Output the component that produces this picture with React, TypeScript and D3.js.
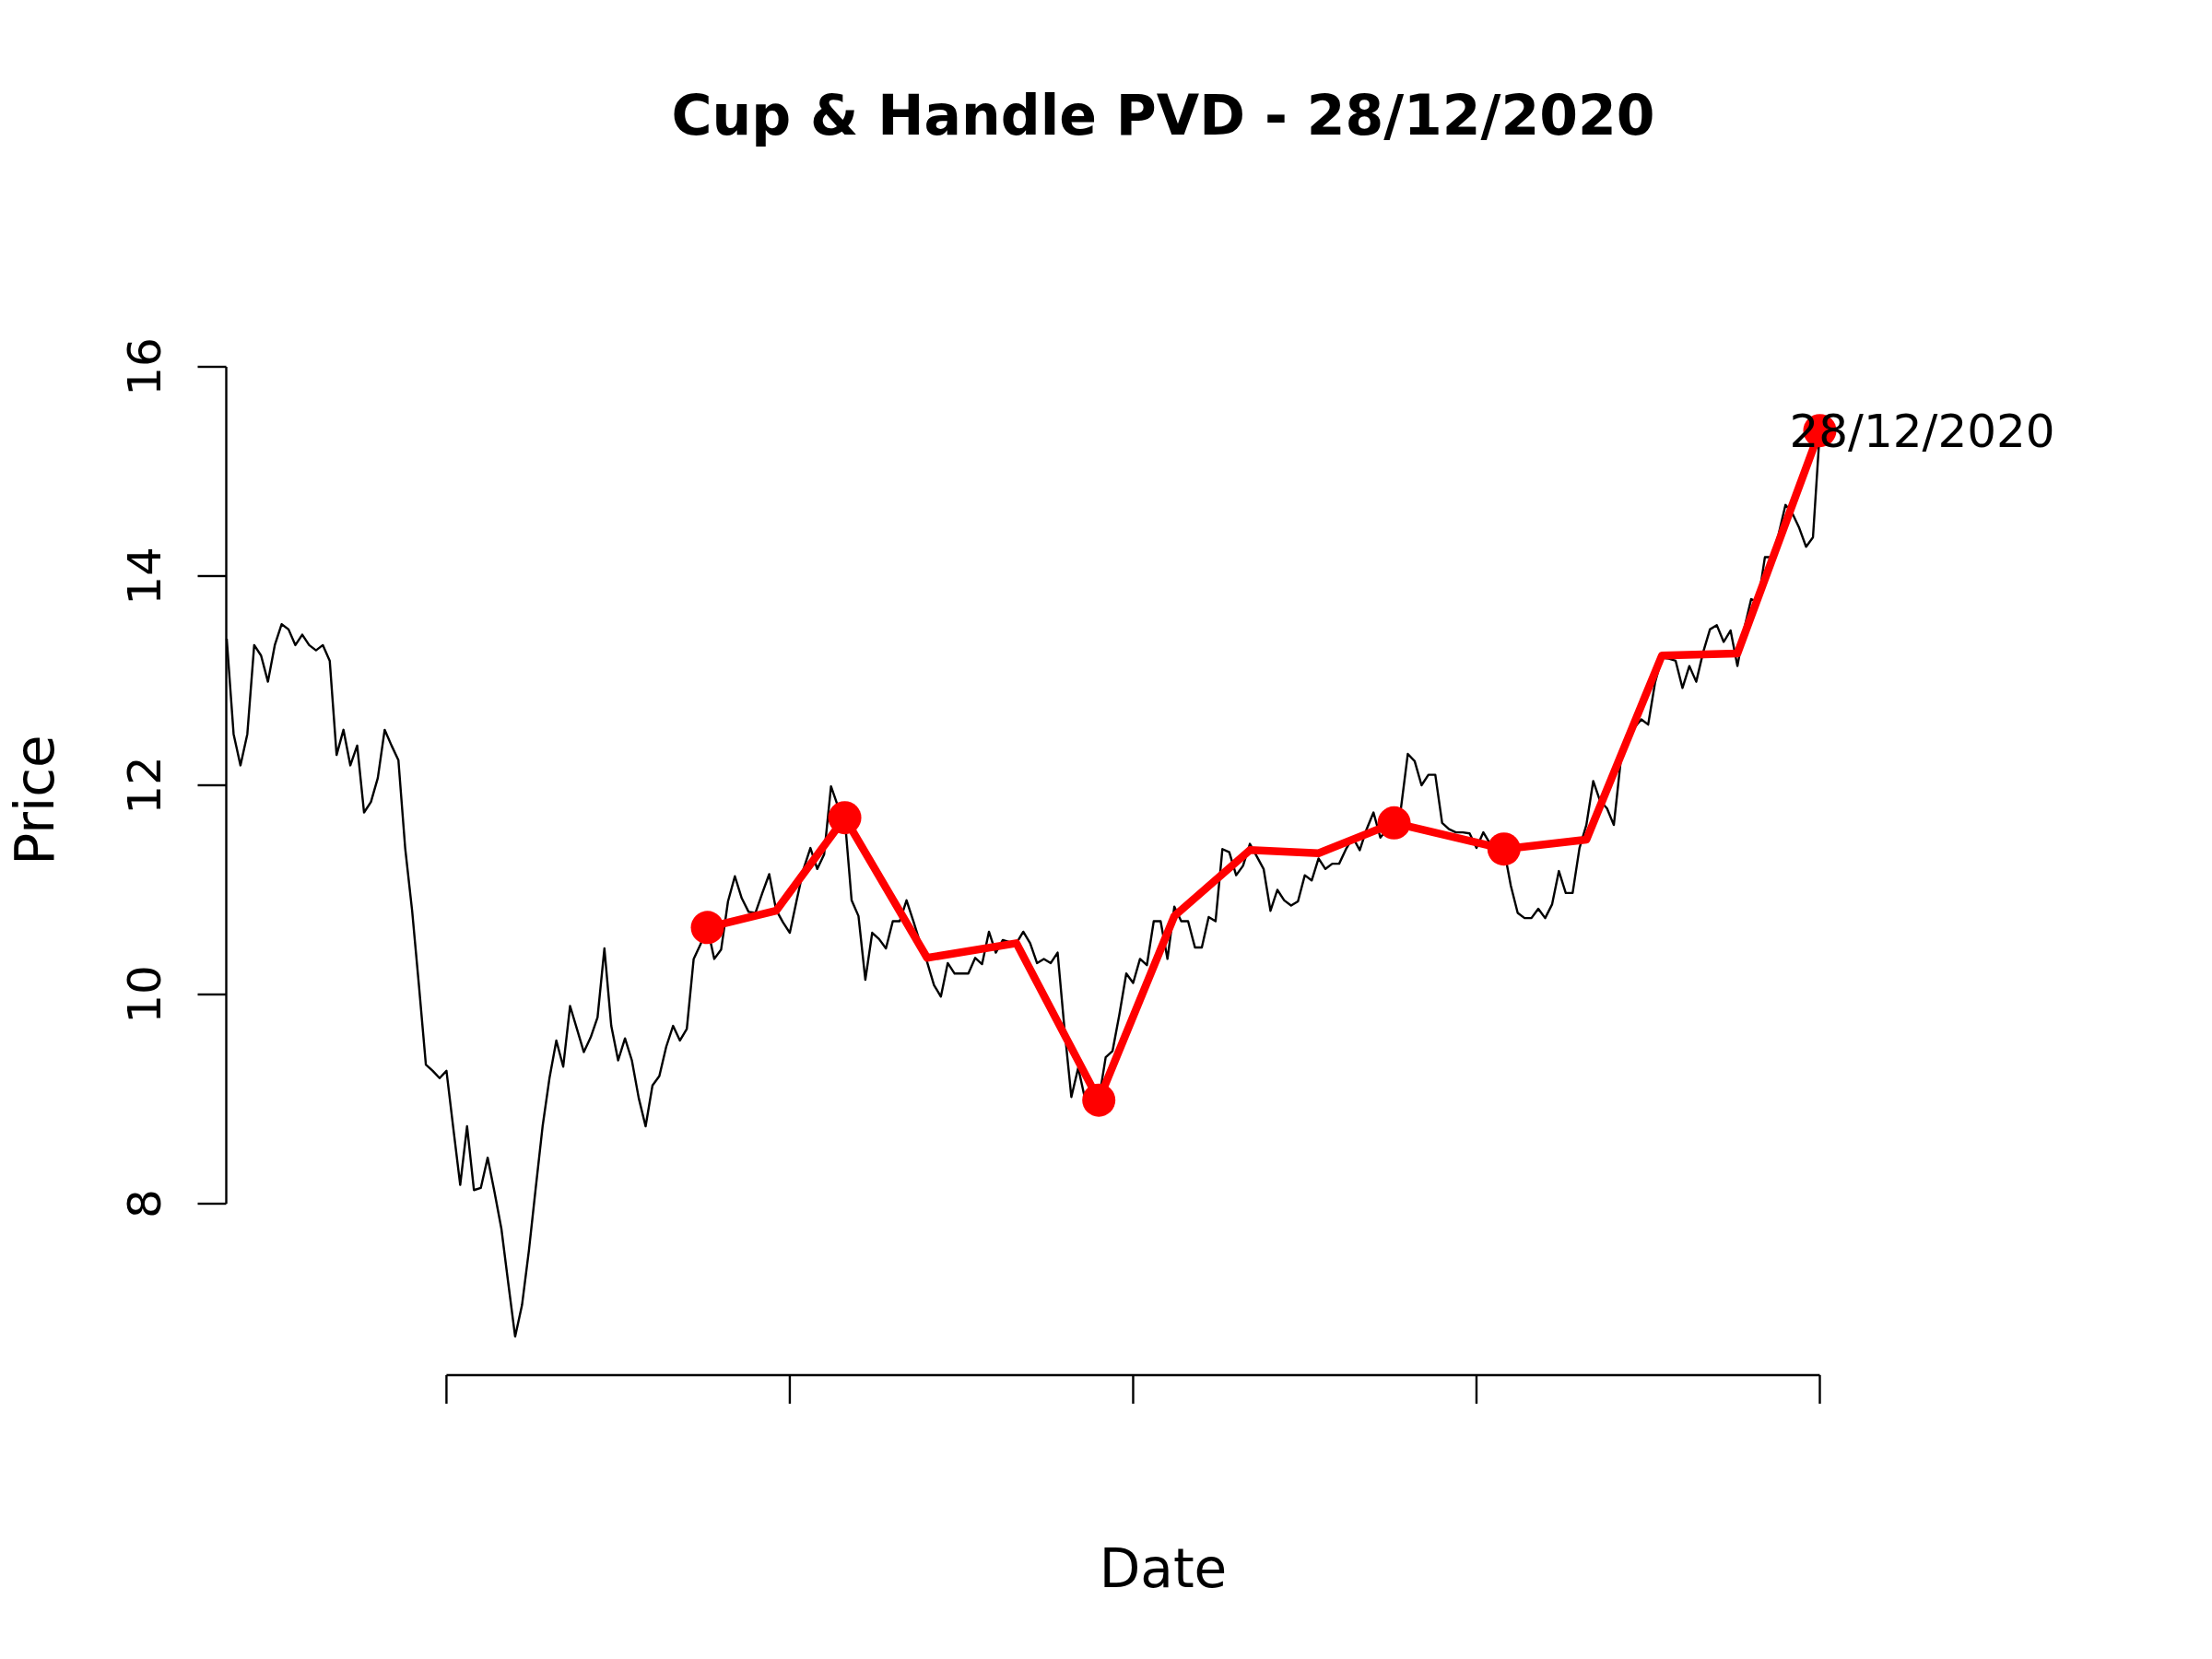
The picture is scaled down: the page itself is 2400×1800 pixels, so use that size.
import React from "react";
import * as d3 from "d3";

// Closing prices (one per trading day, oldest first)
const prices: number[] = [
  13.40, 12.49, 12.19, 12.49, 13.34, 13.24, 12.99, 13.34, 13.54, 13.49,
  13.34, 13.44, 13.34, 13.29, 13.34, 13.19, 12.29, 12.53, 12.19, 12.38,
  11.74, 11.84, 12.07, 12.53, 12.38, 12.24, 11.39, 10.80, 10.08, 9.33,
  9.27, 9.20, 9.27, 8.72, 8.18, 8.74, 8.13, 8.15, 8.44, 8.11,
  7.76, 7.24, 6.73, 7.03, 7.55, 8.15, 8.74, 9.20, 9.56, 9.31,
  9.89, 9.67, 9.45, 9.59, 9.78, 10.44, 9.70, 9.37, 9.58, 9.37,
  9.01, 8.74, 9.13, 9.22, 9.50, 9.70, 9.56, 9.67, 10.34, 10.48,
  10.64, 10.34, 10.43, 10.89, 11.13, 10.92, 10.79, 10.78, 10.97, 11.15,
  10.81, 10.69, 10.59, 10.90, 11.20, 11.40, 11.20, 11.34, 11.99, 11.80,
  11.69, 10.90, 10.75, 10.14, 10.59, 10.53, 10.44, 10.70, 10.70, 10.90,
  10.70, 10.49, 10.31, 10.09, 9.98, 10.30, 10.20, 10.20, 10.20, 10.35,
  10.29, 10.60, 10.40, 10.52, 10.50, 10.49, 10.60, 10.49, 10.30, 10.34,
  10.30, 10.40, 9.67, 9.02, 9.30, 9.00, 9.10, 8.99, 9.40, 9.46,
  9.81, 10.20, 10.11, 10.34, 10.28, 10.70, 10.70, 10.34, 10.84, 10.70,
  10.70, 10.45, 10.45, 10.74, 10.70, 11.39, 11.36, 11.14, 11.23, 11.44,
  11.32, 11.20, 10.80, 11.00, 10.90, 10.85, 10.89, 11.14, 11.09, 11.30,
  11.20, 11.25, 11.25, 11.39, 11.50, 11.38, 11.58, 11.74, 11.50, 11.58,
  11.64, 11.78, 12.30, 12.23, 12.00, 12.10, 12.10, 11.64, 11.58, 11.55,
  11.55, 11.54, 11.40, 11.55, 11.44, 11.42, 11.39, 11.04, 10.78, 10.73,
  10.73, 10.82, 10.73, 10.86, 11.18, 10.97, 10.97, 11.40, 11.62, 12.04,
  11.85, 11.78, 11.62, 12.23, 12.40, 12.55, 12.63, 12.58, 12.98, 13.22,
  13.21, 13.19, 12.93, 13.14, 12.99, 13.27, 13.49, 13.53, 13.37, 13.48,
  13.14, 13.50, 13.78, 13.75, 14.18, 14.18, 14.40, 14.68, 14.60, 14.46,
  14.28, 14.37, 15.39,
];

// Pattern (zigzag) vertices: day index and price
const patternIdx: number[] = [70, 80, 90, 102, 115, 127, 138, 149, 159, 170, 186, 198, 209, 220, 232];
const patternVal: number[] = [10.64, 10.80, 11.69, 10.35, 10.49, 8.99, 10.75, 11.38, 11.35, 11.64, 11.39, 11.48, 13.24, 13.26, 15.39];

// Key points of the cup & handle pattern (marked with dots)
const keyIdx: number[] = [70, 90, 127, 170, 186, 232];

const yTicks: number[] = [8, 10, 12, 14, 16];
const xTickIdx: number[] = [32, 82, 132, 182, 232];

const titleText = "Cup & Handle PVD - 28/12/2020";
const lastLabel = "28/12/2020";
const xLabel = "Date";
const yLabel = "Price";

const W = 2400;
const H = 1800;
const FONT = "'DejaVu Sans', 'Liberation Sans', sans-serif";

export default function App() {
  const x = d3.scaleLinear().domain([0, prices.length - 1]).range([246, 1974.5]);
  const y = d3.scaleLinear().domain([8, 16]).range([1306, 398]);

  const priceLine = d3
    .line<number>()
    .x((_, i) => x(i))
    .y((d) => y(d));

  const pattern = patternIdx.map((idx, k) => [idx, patternVal[k]] as [number, number]);
  const patternLine = d3
    .line<[number, number]>()
    .x((d) => x(d[0]))
    .y((d) => y(d[1]));

  const axisX = 245.5;
  const axisY = 1492;
  const tickLen = 31;

  const lastIdx = patternIdx[patternIdx.length - 1];
  const lastVal = patternVal[patternVal.length - 1];

  return (
    <svg
      width={W}
      height={H}
      viewBox={`0 0 ${W} ${H}`}
      style={{ position: "absolute", left: 0, top: 0, background: "#fff" }}
      fontFamily={FONT}
    >
      <rect x={0} y={0} width={W} height={H} fill="#fff" />
      <text x={1262} y={146} textAnchor="middle" fontSize={60} fontWeight="bold" fill="#000">
        {titleText}
      </text>

      {/* price line */}
      <path d={priceLine(prices) || ""} fill="none" stroke="#000" strokeWidth={2.4} strokeLinejoin="round" />

      {/* pattern line */}
      <path d={patternLine(pattern) || ""} fill="none" stroke="#ff0000" strokeWidth={8.5} strokeLinejoin="round" />
      {keyIdx.map((idx) => {
        const k = patternIdx.indexOf(idx);
        return <circle key={idx} cx={x(idx)} cy={y(patternVal[k])} r={18} fill="#ff0000" />;
      })}

      <text x={x(lastIdx) - 33} y={y(lastVal) + 18} fontSize={50} fill="#000">
        {lastLabel}
      </text>

      {/* y axis */}
      <line x1={axisX} x2={axisX} y1={y(16)} y2={y(8)} stroke="#000" strokeWidth={2.4} />
      {yTicks.map((t) => (
        <g key={t}>
          <line x1={axisX} x2={axisX - tickLen} y1={y(t)} y2={y(t)} stroke="#000" strokeWidth={2.4} />
          <text
            transform={`translate(174,${y(t)}) rotate(-90)`}
            textAnchor="middle"
            fontSize={50}
            fill="#000"
          >
            {t}
          </text>
        </g>
      ))}

      {/* x axis */}
      <line x1={x(xTickIdx[0])} x2={x(xTickIdx[xTickIdx.length - 1])} y1={axisY} y2={axisY} stroke="#000" strokeWidth={2.4} />
      {xTickIdx.map((t) => (
        <line key={t} x1={x(t)} x2={x(t)} y1={axisY} y2={axisY + tickLen} stroke="#000" strokeWidth={2.4} />
      ))}

      <text x={1262} y={1722} textAnchor="middle" fontSize={58} fill="#000">
        {xLabel}
      </text>
      <text transform={`translate(58,868) rotate(-90)`} textAnchor="middle" fontSize={58} fill="#000">
        {yLabel}
      </text>
    </svg>
  );
}
